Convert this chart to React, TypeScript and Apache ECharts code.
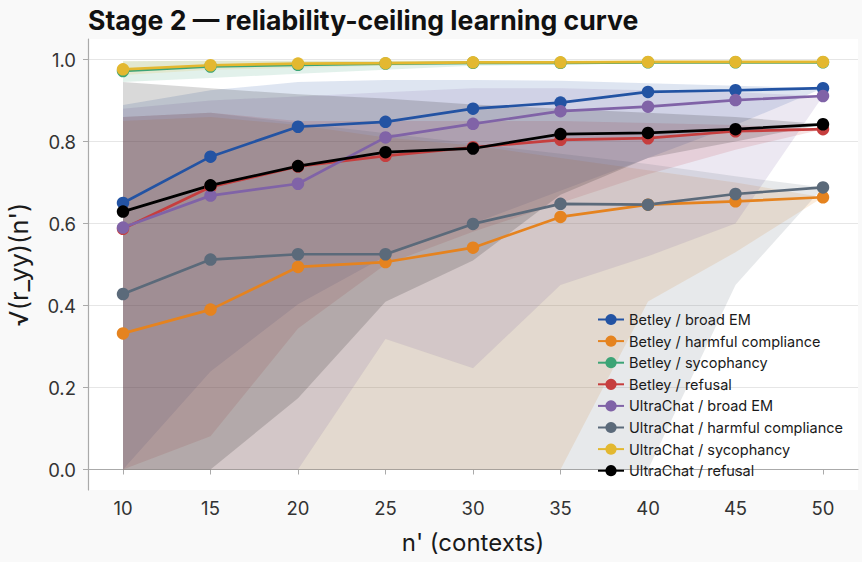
import React, { useEffect, useRef } from "react";
import * as echarts from "echarts";

// Subsample sizes n' (contexts)
const nPrime = [10, 15, 20, 25, 30, 35, 40, 45, 50];
const yTicks = [0, 0.2, 0.4, 0.6, 0.8, 1.0];

// Mean sqrt reliability per condition
const betleyBroadEM = [0.65, 0.763, 0.836, 0.848, 0.88, 0.895, 0.921, 0.925, 0.93];
const betleyHarmful = [0.332, 0.39, 0.494, 0.506, 0.541, 0.616, 0.646, 0.654, 0.664];
const betleySycophancy = [0.972, 0.983, 0.987, 0.99, 0.992, 0.992, 0.993, 0.993, 0.993];
const betleyRefusal = [0.587, 0.689, 0.739, 0.765, 0.786, 0.804, 0.808, 0.825, 0.83];
const ultraBroadEM = [0.59, 0.668, 0.697, 0.81, 0.843, 0.874, 0.885, 0.901, 0.911];
const ultraHarmful = [0.428, 0.512, 0.525, 0.525, 0.599, 0.648, 0.646, 0.672, 0.688];
const ultraSycophancy = [0.976, 0.986, 0.99, 0.991, 0.993, 0.993, 0.994, 0.994, 0.994];
const ultraRefusal = [0.629, 0.693, 0.74, 0.774, 0.783, 0.818, 0.821, 0.83, 0.842];

// Bootstrap interval bounds per condition
const betleyBroadEMLo = [0, 0.239, 0.403, 0.52, 0.6, 0.68, 0.76, 0.84, 0.93];
const betleyBroadEMHi = [0.889, 0.925, 0.945, 0.95, 0.95, 0.948, 0.942, 0.936, 0.93];
const betleyHarmfulLo = [0, 0, 0, 0, 0, 0, 0.41, 0.53, 0.664];
const betleyHarmfulHi = [0.85, 0.86, 0.84, 0.81, 0.79, 0.76, 0.73, 0.7, 0.664];
const betleySycophancyLo = [0.945, 0.955, 0.965, 0.975, 0.985, 0.988, 0.99, 0.991, 0.993];
const betleySycophancyHi = [0.996, 0.997, 0.997, 0.997, 0.997, 0.997, 0.996, 0.995, 0.993];
const betleyRefusalLo = [0, 0.081, 0.344, 0.5, 0.58, 0.65, 0.72, 0.78, 0.83];
const betleyRefusalHi = [0.86, 0.87, 0.85, 0.85, 0.85, 0.85, 0.845, 0.84, 0.83];
const ultraBroadEMLo = [0, 0, 0, 0.318, 0.247, 0.45, 0.52, 0.6, 0.911];
const ultraBroadEMHi = [0.88, 0.9, 0.91, 0.92, 0.93, 0.93, 0.925, 0.92, 0.911];
const ultraHarmfulLo = [0, 0, 0, 0, 0, 0, 0, 0.45, 0.688];
const ultraHarmfulHi = [0.86, 0.87, 0.845, 0.82, 0.795, 0.77, 0.745, 0.715, 0.688];
const ultraSycophancyLo = [0.962, 0.975, 0.98, 0.985, 0.988, 0.99, 0.991, 0.992, 0.994];
const ultraSycophancyHi = [0.996, 0.997, 0.997, 0.997, 0.997, 0.997, 0.996, 0.995, 0.994];
const ultraRefusalLo = [0, 0, 0.174, 0.409, 0.51, 0.67, 0.76, 0.8, 0.842];
const ultraRefusalHi = [0.945, 0.93, 0.915, 0.905, 0.89, 0.88, 0.87, 0.86, 0.842];

const conditions = [
  { name: "Betley / broad EM", color: "#2353a3", mean: betleyBroadEM, lo: betleyBroadEMLo, hi: betleyBroadEMHi },
  { name: "Betley / harmful compliance", color: "#e5831f", mean: betleyHarmful, lo: betleyHarmfulLo, hi: betleyHarmfulHi },
  { name: "Betley / sycophancy", color: "#3ca476", mean: betleySycophancy, lo: betleySycophancyLo, hi: betleySycophancyHi },
  { name: "Betley / refusal", color: "#c63e3e", mean: betleyRefusal, lo: betleyRefusalLo, hi: betleyRefusalHi },
  { name: "UltraChat / broad EM", color: "#8063a7", mean: ultraBroadEM, lo: ultraBroadEMLo, hi: ultraBroadEMHi },
  { name: "UltraChat / harmful compliance", color: "#5b6a7a", mean: ultraHarmful, lo: ultraHarmfulLo, hi: ultraHarmfulHi },
  { name: "UltraChat / sycophancy", color: "#e3b830", mean: ultraSycophancy, lo: ultraSycophancyLo, hi: ultraSycophancyHi },
  { name: "UltraChat / refusal", color: "#000000", mean: ultraRefusal, lo: ultraRefusalLo, hi: ultraRefusalHi },
];

const FONT = "Inter, 'Noto Sans', sans-serif";

function bandSeries(c: (typeof conditions)[number]) {
  const rows = nPrime.map((n, i) => [n, c.lo[i], c.hi[i]]);
  return {
    type: "custom",
    name: c.name + " interval",
    silent: true,
    z: 1,
    data: rows,
    encode: { x: 0, y: [1, 2] },
    renderItem: (params: any, api: any) => {
      if (params.dataIndex !== 0) return null;
      const top = rows.map((r) => api.coord([r[0], r[2]]));
      const bottom = rows.map((r) => api.coord([r[0], r[1]])).reverse();
      return {
        type: "polygon",
        shape: { points: top.concat(bottom) },
        style: { fill: c.color, opacity: 0.15 },
      };
    },
  };
}

function lineSeries(c: (typeof conditions)[number]) {
  return {
    type: "line",
    name: c.name,
    z: 3,
    data: nPrime.map((n, i) => [n, c.mean[i]]),
    symbol: "circle",
    symbolSize: 12.5,
    lineStyle: { color: c.color, width: 2.7 },
    itemStyle: { color: c.color },
  };
}

export default function App() {
  const ref = useRef<HTMLDivElement>(null);

  useEffect(() => {
    if (!ref.current) return;
    const chart = echarts.init(ref.current, undefined, { renderer: "svg" });
    chart.setOption({
      animation: false,
      backgroundColor: "#f9f9f9",
      textStyle: { fontFamily: FONT },
      title: {
        text: "Stage 2 \u2014 reliability-ceiling learning curve",
        left: 83,
        top: 1,
        textStyle: { fontFamily: FONT, fontSize: 26.6, fontWeight: 700, color: "#111" },
      },
      grid: {
        left: 88,
        right: 4,
        top: 39,
        bottom: 72,
        outerBoundsMode: "none",
        containLabel: false,
        show: true,
        backgroundColor: "#ffffff",
        borderWidth: 0,
      },
      legend: {
        data: conditions.map((c) => c.name),
        orient: "vertical",
        left: 597,
        top: 312,
        padding: 0,
        itemGap: 6.6,
        itemWidth: 26,
        itemHeight: 14,
        textStyle: { fontFamily: FONT, fontSize: 14.5, color: "#1a1a1a", lineHeight: 14 },
      },
      xAxis: {
        type: "value",
        min: 8,
        max: 52,
        name: "n' (contexts)",
        nameLocation: "middle",
        nameGap: 40,
        nameTextStyle: { fontFamily: FONT, fontSize: 24, color: "#1a1a1a" },
        axisLine: { show: true, lineStyle: { color: "#aaaaaa", width: 1.2 } },
        axisTick: { show: true, length: 5, lineStyle: { color: "#aaaaaa" }, customValues: nPrime },
        axisLabel: { customValues: nPrime, fontFamily: FONT, fontSize: 18.5, color: "#333", margin: 8 },
        splitLine: { show: false },
      },
      yAxis: {
        type: "value",
        min: -0.05,
        max: 1.05,
        name: "\u221a(r_yy)(n')",
        nameLocation: "middle",
        nameGap: 57,
        nameRotate: 90,
        nameTextStyle: { fontFamily: FONT, fontSize: 25.5, color: "#1a1a1a" },
        axisLine: { show: true, lineStyle: { color: "#aaaaaa", width: 1.2 } },
        axisTick: { show: true, length: 5, lineStyle: { color: "#aaaaaa" }, customValues: yTicks },
        axisLabel: {
          customValues: yTicks,
          fontFamily: FONT,
          fontSize: 18.5,
          color: "#333",
          margin: 12,
          formatter: (v: number) => v.toFixed(1),
        },
        splitLine: { show: true, lineStyle: { color: "#e6e6e6", width: 1 } },
      },
      series: [...conditions.map(bandSeries), ...conditions.map(lineSeries)],
    });
    return () => chart.dispose();
  }, []);

  return (
    <div
      ref={ref}
      style={{ position: "fixed", left: 0, top: 0, width: 862, height: 562 }}
    />
  );
}
